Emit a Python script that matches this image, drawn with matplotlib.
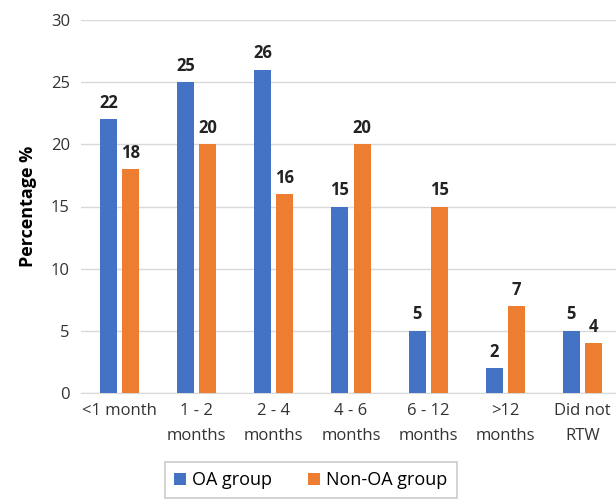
import numpy as np
import matplotlib
matplotlib.use('Agg')
from matplotlib import pyplot as plt

categories = ['<1 month', '1 - 2\nmonths', '2 - 4\nmonths', '4 - 6\nmonths',
              '6 - 12\nmonths', '>12\nmonths', 'Did not\nRTW']
oa = [22, 25, 26, 15, 5, 2, 5]
non_oa = [18, 20, 16, 20, 15, 7, 4]

plt.rcParams['font.family'] = ['Open Sans', 'DejaVu Sans']

fig = plt.figure(figsize=(6.16, 5.0), dpi=100)
ax = fig.add_axes([81/616, 1-393/500, (621-81)/616, (393-20)/500])

x = np.arange(len(categories))
w = 0.22
b1 = ax.bar(x - 0.143, oa, w, color='#4472C4', label='OA group', zorder=3)
b2 = ax.bar(x + 0.143, non_oa, w, color='#ED7D31', label='Non-OA group', zorder=3)
for bars in (b1, b2):
    for r in bars:
        ax.text(r.get_x() + r.get_width()/2, r.get_height() + 0.6, '%d' % r.get_height(),
                ha='center', va='bottom', fontsize=12, fontweight='bold', color='#222222')

ax.set_xlim(-0.5, len(categories) - 0.5)
ax.set_ylim(0, 30)
ax.set_yticks(range(0, 31, 5))
ax.set_xticks(x)
ax.set_xticklabels(categories, fontsize=12, color='#333333', linespacing=1.8)
ax.tick_params(axis='y', labelsize=12, labelcolor='#333333', length=0, pad=8)
ax.tick_params(axis='x', length=0, pad=7)
ax.grid(axis='y', color='#d9d9d9', linewidth=1, zorder=0)
for s in ['top', 'right', 'left']:
    ax.spines[s].set_visible(False)
ax.spines['bottom'].set_color('#d9d9d9')
ax.set_ylabel('Percentage %', fontsize=13, fontweight='bold', labelpad=10)

leg = fig.legend(loc='upper left', bbox_to_anchor=(165/616, 1-462/500), ncol=2,
                 fontsize=13, frameon=True, fancybox=False, handlelength=0.65,
                 handleheight=0.65, handletextpad=0.35, columnspacing=2.0,
                 borderpad=0.5, borderaxespad=0)
leg.get_frame().set_edgecolor('#bfbfbf')
leg.get_frame().set_linewidth(1.2)

fig.savefig('out.png', dpi=100)
